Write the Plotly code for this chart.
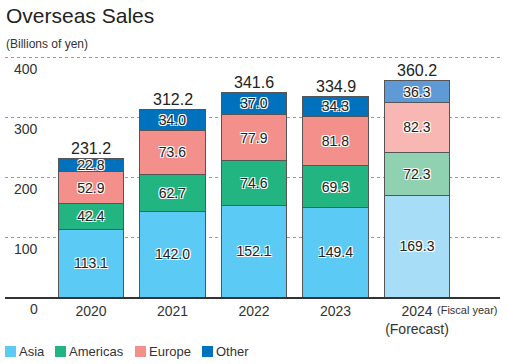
import plotly.graph_objects as go

years = ["2020", "2021", "2022", "2023", "2024"]
year_labels = ["2020", "2021", "2022", "2023", "2024<br>(Forecast)"]
asia = [113.1, 142.0, 152.1, 149.4, 169.3]
americas = [42.4, 62.7, 74.6, 69.3, 72.3]
europe = [52.9, 73.6, 77.9, 81.8, 82.3]
other = [22.8, 34.0, 37.0, 34.3, 36.3]
totals = [231.2, 312.2, 341.6, 334.9, 360.2]
y_ticks = [0, 100, 200, 300, 400]

series = [
    ("Asia", asia, "#5BCBF5", "#A8DDF7"),
    ("Americas", americas, "#22B582", "#8FD1B1"),
    ("Europe", europe, "#F4908B", "#F8B7B2"),
    ("Other", other, "#0071BC", "#5F9AD6"),
]

FONT = "Liberation Sans, Arial, sans-serif"
W, H = 506, 364
ML, MR, MT, MB = 5, 6, 50, 67
PW, PH = W - ML - MR, H - MT - MB


def px(x):
    return (x - ML) / PW


def py(y):
    return (H - MB - y) / PH


outline = "-1px -1px 0 #fff, 1px -1px 0 #fff, -1px 1px 0 #fff, 1px 1px 0 #fff"

fig = go.Figure()
for name, vals, col, fcol in series:
    colors = [col] * (len(years) - 1) + [fcol]
    fig.add_trace(go.Bar(
        x=years, y=vals, name=name,
        marker=dict(color=colors, line=dict(color="#555555", width=1)),
        text=[f"{v:.1f}" for v in vals],
        textposition="inside", insidetextanchor="middle",
        constraintext="none",
        textfont=dict(family=FONT, size=14, color="#222222", shadow=outline),
        showlegend=False, hoverinfo="skip",
    ))

annotations = []
for i, t in enumerate(totals):
    annotations.append(dict(x=i, y=t, xref="x", yref="y", text=f"{t:.1f}",
                            showarrow=False, yshift=10, yanchor="middle",
                            font=dict(family=FONT, size=16, color="#222222")))
for t in y_ticks:
    annotations.append(dict(x=px(40), y=t, xref="paper", yref="y", text=str(t),
                            showarrow=False, xanchor="right", yanchor="middle", yshift=-12,
                            font=dict(family=FONT, size=14, color="#333333")))
annotations.append(dict(x=px(500), y=py(310), xref="paper", yref="paper",
                        text="(Fiscal year)", showarrow=False, xanchor="right", yanchor="middle",
                        font=dict(family="Liberation Sans Narrow, Liberation Sans, sans-serif",
                                  size=11, color="#333333")))
annotations.append(dict(x=px(4), y=py(15), xref="paper", yref="paper",
                        text="Overseas Sales", showarrow=False, xanchor="left", yanchor="middle",
                        font=dict(family=FONT, size=21, color="#222222")))
annotations.append(dict(x=px(4), y=py(44), xref="paper", yref="paper",
                        text="(Billions of yen)", showarrow=False, xanchor="left", yanchor="middle",
                        font=dict(family=FONT, size=12, color="#333333")))

shapes = []
leg_x = [5, 55, 135, 202]
for (name, vals, col, fcol), lx in zip(series, leg_x):
    shapes.append(dict(type="rect", xref="paper", yref="paper",
                       x0=px(lx), x1=px(lx + 11), y0=py(346), y1=py(357),
                       fillcolor=col, line=dict(width=0)))
    annotations.append(dict(x=px(lx + 12), y=py(351.5), xref="paper", yref="paper",
                            text=name, showarrow=False, xanchor="left", yanchor="middle",
                            font=dict(family=FONT, size=13, color="#333333")))

fig.update_layout(
    width=W, height=H,
    margin=dict(l=ML, r=MR, t=MT, b=MB),
    paper_bgcolor="white", plot_bgcolor="white",
    barmode="stack", bargap=0.2,
    uniformtext=dict(minsize=14, mode="show"),
    annotations=annotations, shapes=shapes,
    xaxis=dict(type="category", range=[-1.055, 5.018],
               tickmode="array", tickvals=years, ticktext=year_labels,
               tickfont=dict(family=FONT, size=14, color="#333333"),
               showline=True, linecolor="#333333", linewidth=1.5,
               ticks="", showgrid=False),
    yaxis=dict(range=[0, PH / 0.6], tickvals=y_ticks[1:], showticklabels=False,
               showgrid=True, gridcolor="#9a9a9a", griddash="dot", gridwidth=1,
               zeroline=False, showline=False),
)

fig.write_html("out.html", config={"displayModeBar": False},
               post_script="document.body.style.margin='0';document.body.style.padding='0';")
